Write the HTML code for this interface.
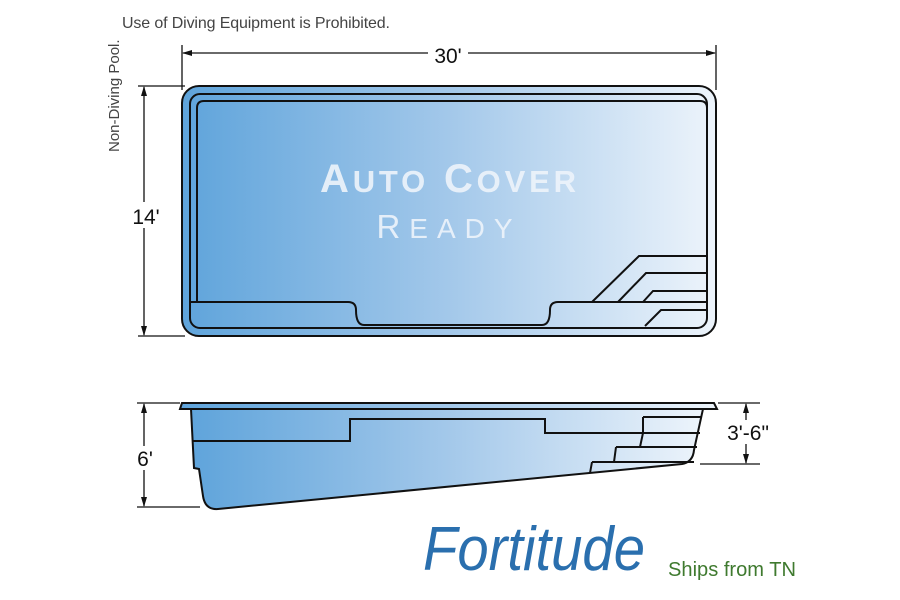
<!DOCTYPE html>
<html><head><meta charset="utf-8"><style>
html,body{margin:0;padding:0;background:#fff;width:900px;height:600px;overflow:hidden}
svg text{font-family:"Liberation Sans",sans-serif}
</style></head><body>
<svg width="900" height="600" viewBox="0 0 900 600" xmlns="http://www.w3.org/2000/svg">
<defs>
<linearGradient id="g" x1="0" x2="1" y1="0" y2="0">
<stop offset="0" stop-color="#5fa4db"/><stop offset="0.5" stop-color="#a3c8ea"/><stop offset="1" stop-color="#edf4fb"/>
</linearGradient>
<marker id="a" markerWidth="10" markerHeight="8" refX="9" refY="4" orient="auto-start-reverse" markerUnits="userSpaceOnUse">
<path d="M0,1 L10,4 L0,7 Z" fill="#111"/></marker>
</defs>
<text x="122" y="28" font-size="16" fill="#444" textLength="268">Use of Diving Equipment is Prohibited.</text>
<text transform="translate(119,152) rotate(-90)" font-size="15" fill="#444">Non-Diving Pool.</text>
<line x1="182" y1="45" x2="182" y2="90" stroke="#111" stroke-width="1.3"/>
<line x1="716" y1="45" x2="716" y2="90" stroke="#111" stroke-width="1.3"/>
<line x1="183" y1="53" x2="715" y2="53" stroke="#111" stroke-width="1.3" marker-start="url(#a)" marker-end="url(#a)"/>
<rect x="428" y="42" width="40" height="22" fill="#fff"/>
<text x="448" y="63" font-size="21" text-anchor="middle" fill="#111">30'</text>
<line x1="138" y1="86" x2="185" y2="86" stroke="#111" stroke-width="1.3"/>
<line x1="138" y1="336" x2="185" y2="336" stroke="#111" stroke-width="1.3"/>
<line x1="144" y1="87" x2="144" y2="335" stroke="#111" stroke-width="1.3" marker-start="url(#a)" marker-end="url(#a)"/>
<rect x="130" y="202" width="30" height="26" fill="#fff"/>
<text x="146" y="224" font-size="21" text-anchor="middle" fill="#111">14'</text>
<rect x="182" y="86" width="534" height="250" rx="17" fill="url(#g)" stroke="#111" stroke-width="2"/>
<rect x="190" y="94" width="517" height="234" rx="10" fill="none" stroke="#111" stroke-width="2"/>
<path d="M197,302 V108 Q197,101 204,101 H700 Q707,101 707,108" fill="none" stroke="#111" stroke-width="2"/>
<path d="M190,302 H348 Q356,302 356,310 Q356,325 364,325 H542 Q550,325 550,310 Q550,302 558,302 H707" fill="none" stroke="#111" stroke-width="2"/>
<path d="M707,256 H639 L592,302 M707,273 H646 L618,302 M707,291 H653 L643,302 M707,310 H661 L645,326" fill="none" stroke="#111" stroke-width="2"/>
<text x="448" y="192" font-size="40" font-weight="bold" text-anchor="middle" fill="#eef4fb" opacity="0.9" textLength="256" lengthAdjust="spacing">A<tspan font-size="31">UTO</tspan> C<tspan font-size="31">OVER</tspan></text>
<text x="449" y="238" font-size="33" text-anchor="middle" fill="#eef4fb" opacity="0.9" letter-spacing="9">R<tspan font-size="28">EADY</tspan></text>
<line x1="137" y1="403" x2="180" y2="403" stroke="#111" stroke-width="1.3"/>
<line x1="137" y1="507" x2="200" y2="507" stroke="#111" stroke-width="1.3"/>
<line x1="144" y1="404" x2="144" y2="506" stroke="#111" stroke-width="1.3" marker-start="url(#a)" marker-end="url(#a)"/>
<rect x="132" y="446" width="26" height="24" fill="#fff"/>
<text x="145" y="466" font-size="21" text-anchor="middle" fill="#111">6'</text>
<line x1="718" y1="403" x2="760" y2="403" stroke="#111" stroke-width="1.3"/>
<line x1="700" y1="464" x2="760" y2="464" stroke="#111" stroke-width="1.3"/>
<line x1="746" y1="404" x2="746" y2="463" stroke="#111" stroke-width="1.3" marker-start="url(#a)" marker-end="url(#a)"/>
<rect x="722" y="420" width="52" height="24" fill="#fff"/>
<text x="748" y="440" font-size="21" text-anchor="middle" fill="#111">3'-6"</text>
<path d="M191,409 L194,468 L199,469 L203,496 Q205,510 218,509 L682,464 Q693,462 694,450 L703,409 Z" fill="url(#g)" stroke="#111" stroke-width="2"/>
<path d="M182,403 H714 L717,409 H180 Z" fill="url(#g)" stroke="#111" stroke-width="2"/>
<path d="M192,441 H350 V419 H545 V433 H700 M643,417 V433 L640,447 M616,447 H697 M616,447 L614,462 M592,462 H694 M592,462 L590,473" fill="none" stroke="#111" stroke-width="2"/>
<line x1="643" y1="417" x2="702" y2="417" stroke="#111" stroke-width="2"/>
<text x="423" y="570" font-size="62" font-style="italic" fill="#2a6fae" font-family="'Liberation Serif',serif" textLength="222" lengthAdjust="spacingAndGlyphs">Fortitude</text>
<text x="668" y="576" font-size="20" fill="#3f7a2f" textLength="128" lengthAdjust="spacingAndGlyphs">Ships from TN</text>
</svg>
</body></html>
